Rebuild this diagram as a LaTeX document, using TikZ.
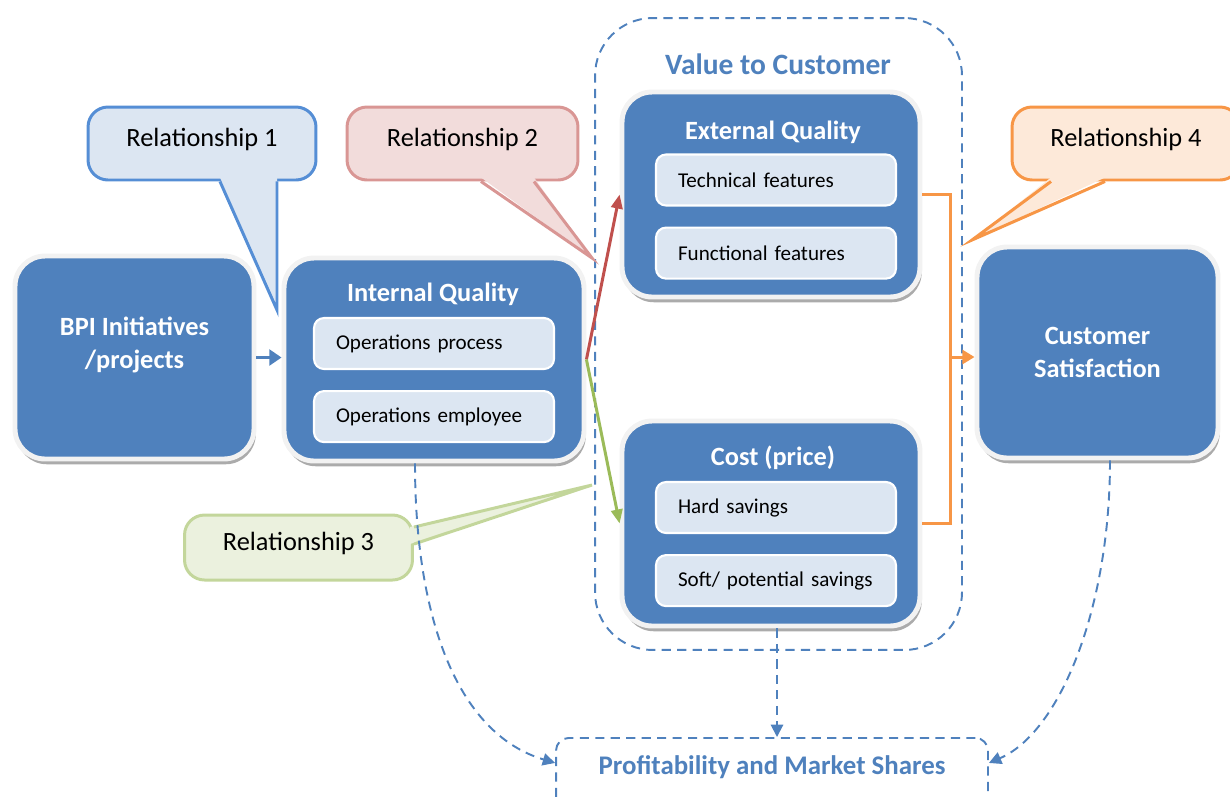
\documentclass[tikz,border=0pt]{standalone}
\usepackage{fontspec}
\setmainfont{Carlito}
\usepackage{tikz}
\usetikzlibrary{arrows.meta, positioning, calc, shadows}
\definecolor{bpiblue}{HTML}{4F81BD}
\definecolor{paleblue}{HTML}{DCE6F2}
\definecolor{framegray}{HTML}{F2F2F2}
\definecolor{relred}{HTML}{C0504D}
\definecolor{relgreen}{HTML}{9BBB59}
\definecolor{relorange}{HTML}{F79646}
\definecolor{bubbleblue}{HTML}{558ED5}
\definecolor{bubblered}{HTML}{D99694}
\definecolor{bubblegreen}{HTML}{C3D69B}
\definecolor{fillred}{HTML}{F2DCDB}
\definecolor{fillgreen}{HTML}{EBF1DE}
\definecolor{fillorange}{HTML}{FDE9D9}
\tikzset{block/.style={rectangle,draw=framegray,line width=2.8pt,fill=bpiblue,rounded corners=0.6cm,
            text=white,font=\fontsize{15}{18.5}\selectfont\bfseries,align=center,
            drop shadow={shadow xshift=1pt,shadow yshift=-3pt,fill=black!55,opacity=0.6}},
         subblock/.style={rectangle,draw=white,line width=1.2pt,fill=paleblue,rounded corners=0.2cm,
            text width=3.92cm,inner xsep=0.44cm,minimum height=1.02cm,align=left,
            font=\fontsize{12}{14}\selectfont},
         heading/.style={text=white,font=\fontsize{15}{18}\selectfont\bfseries},
         bigtitle/.style={text=bpiblue,font=\fontsize{16.8}{20}\selectfont\bfseries},
         group/.style={draw=bpiblue,line width=1.1pt,dash pattern=on 5.2pt off 3.6pt},
         bubble/.style={rectangle,rounded corners=0.4cm,line width=1.7pt,minimum width=4.56cm,
            minimum height=1.46cm,text depth=7.2pt,font=\fontsize{15}{18}\selectfont},
         pointer/.style={line width=1.7pt},
         arrow/.style={line width=1.7pt,-{Triangle[length=8pt,width=6.5pt]}},
         dasharrow/.style={group,-{Triangle[length=7pt,width=7pt]}}}
\begin{document}
\begin{tikzpicture}[x=0.02cm,y=-0.02cm,node distance=0.4cm]
    \path[use as bounding box,clip] (0,0) rectangle (1230,796);
    \node (value) [group, rounded corners=1.15cm, minimum width=7.34cm, minimum height=12.64cm] at (778.5,334) {};
    \node (valuetitle) [bigtitle] at (778,64) {Value to Customer};
    % callouts
    \node (rel1) [bubble, draw=bubbleblue, fill=paleblue] at (202,143.5) {Relationship 1};
    \node (rel2) [bubble, draw=bubblered, fill=fillred, minimum width=4.62cm] at (462.5,143.5) {Relationship 2};
    \node (rel3) [bubble, draw=bubblegreen, fill=fillgreen, minimum height=1.3cm] at (298.5,547.5) {Relationship 3};
    \node (rel4) [bubble, draw=relorange, fill=fillorange] at (1126,143.5) {Relationship 4};
    \coordinate (tip1) at (277,310);
    \coordinate (tip2) at (592,258);
    \coordinate (tip3) at (592,485);
    \coordinate (tip4) at (972,240);
    \fill[paleblue] ($(rel1.south)+(18,-4)$) -- (tip1) -- ($(rel1.south)+(75,-4)$) -- cycle;
    \draw[pointer, bubbleblue] ($(rel1.south)+(18,0)$) -- (tip1) -- ($(rel1.south)+(75,0)$);
    \fill[fillred] ($(rel2.south)+(18.5,-4)$) -- (tip2) -- ($(rel2.south)+(71.5,-4)$) -- cycle;
    \draw[pointer, bubblered] ($(rel2.south)+(18.5,0)$) -- (tip2) -- ($(rel2.south)+(71.5,0)$);
    \fill[fillgreen] ($(rel3.east)+(-4,-20.5)$) -- (tip3) -- ($(rel3.east)+(-4,-3.5)$) -- cycle;
    \draw[pointer, bubblegreen] ($(rel3.east)+(0,-20.5)$) -- (tip3) -- ($(rel3.east)+(0,-3.5)$);
    \fill[fillorange] ($(rel4.south)+(-75,-4)$) -- (tip4) -- ($(rel4.south)+(-21,-4)$) -- cycle;
    \draw[pointer, relorange] ($(rel4.south)+(-75,0)$) -- (tip4) -- ($(rel4.south)+(-21,0)$);
    % blocks
    \node (bpi) [block, minimum width=4.78cm, minimum height=4.06cm, text depth=17pt] at (134.5,357.5) {BPI Initiatives\\/projects};
    \node (iq) [block, minimum width=6cm, minimum height=4.06cm] at (434,359.5) {};
    \node (iqtitle) [heading] at (433,294) {Internal Quality};
    \node (op1) [subblock] at (434,343.5) {Operations process};
    \node (op2) [subblock, below=of op1] {Operations employee};
    \node (ext) [block, minimum width=5.96cm, minimum height=4.1cm] at (771,194.5) {};
    \node (exttitle) [heading] at (773,132) {External Quality};
    \node (tech) [subblock] at (776,180) {Technical features};
    \node (func) [subblock, below=of tech] {Functional features};
    \node (cost) [block, minimum width=5.96cm, minimum height=4.1cm] at (771,523.5) {};
    \node (costtitle) [heading] at (773,458) {Cost (price)};
    \node (hard) [subblock] at (776,507.5) {Hard savings};
    \node (soft) [subblock, below=of hard] {Soft/ potential savings};
    \node (cs) [block, minimum width=4.82cm, minimum height=4.22cm] at (1097.5,352.5) {Customer\\Satisfaction};
    \node (profit) [group, bigtitle, font=\fontsize{15.3}{18}\selectfont\bfseries, rounded corners=0.25cm,
        minimum width=8.64cm, text height=21pt, text depth=20.5pt, inner ysep=0pt, anchor=north] at (772,737) {Profitability and Market Shares};
    % connectors
    \draw[arrow, bpiblue, line width=2.2pt, -{Triangle[length=7pt,width=9pt]}] (bpi.east) -- (bpi.east -| iq.west);
    \draw[arrow, relred] (iq.east) -- (ext.west);
    \draw[arrow, relgreen] (iq.east) -- (cost.west);
    \coordinate (join) at (950,357);
    \draw[relorange, line width=1.7pt] (ext.east) -| (join) |- (cost.east);
    \draw[arrow, relorange, -{Triangle[length=7pt,width=8pt]}] (join) -- (join -| cs.west);
    \draw[dasharrow] ([xshift=-0.38cm]iq.south) .. controls +(0,150) and +(-100,-30) .. ([yshift=0.23cm]profit.west);
    \draw[dasharrow] ([xshift=0.12cm]cost.south) -- ([xshift=0.12cm]cost.south |- profit.north);
    \draw[dasharrow] ([xshift=0.25cm]cs.south) .. controls +(0,150) and +(70,-30) .. ([yshift=0.23cm]profit.east);
\end{tikzpicture}
\end{document}
